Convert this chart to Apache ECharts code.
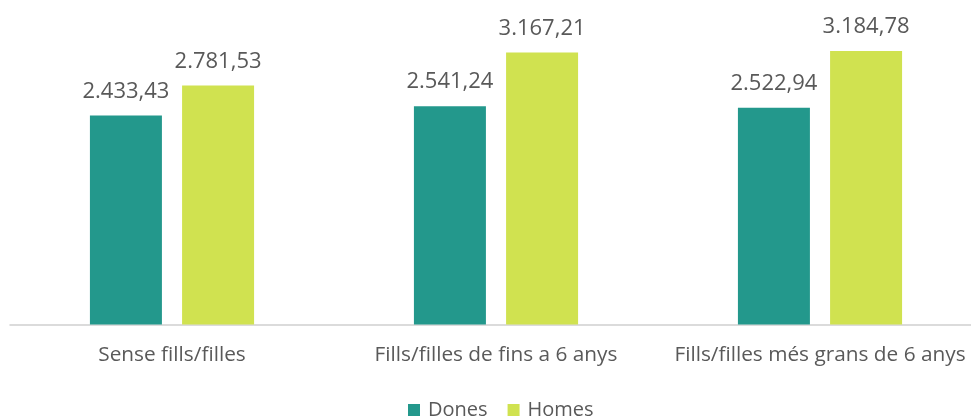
<!DOCTYPE html>
<html>
<head>
<meta charset="utf-8">
<script src="https://cdn.jsdelivr.net/npm/echarts@6/dist/echarts.min.js"></script>
<style>
    html, body { margin: 0; padding: 0; background: #fff; overflow: hidden; }
    #chart { width: 982px; height: 417px; }
</style>
</head>
<body>
<div id="chart"></div>
<script>
// categories and values
const categories = ['Sense fills/filles', 'Fills/filles de fins a 6 anys', 'Fills/filles més grans de 6 anys'];
const dones = [2433.43, 2541.24, 2522.94];
const homes = [2781.53, 3167.21, 3184.78];

const fontFamily = '"Open Sans", "Noto Sans", sans-serif';

// 2781.53 -> "2.781,53"
const fmt = v => {
    let parts = v.toFixed(2).split('.');
    parts[0] = parts[0].replace(/\B(?=(\d{3})+(?!\d))/g, '.');
    return parts.join(',');
};

const chart = echarts.init(document.getElementById('chart'));

const labelStyle = {
    show: true,
    position: 'top',
    distance: 13,
    color: '#595959',
    fontSize: 22,
    fontFamily: fontFamily,
    formatter: p => fmt(p.value)
};

chart.setOption({
    animation: false,
    grid: { left: 10, width: 972, top: 23.8, bottom: 92.5 },
    legend: {
        left: 408,
        top: 400,
        padding: 0,
        itemWidth: 12,
        itemHeight: 12,
        itemGap: 20,
        icon: 'rect',
        textStyle: { color: '#595959', fontSize: 20, fontFamily: fontFamily, padding: [0, 0, 0, 3] },
        data: ['Dones', 'Homes']
    },
    xAxis: {
        type: 'category',
        data: categories,
        axisLine: { lineStyle: { color: '#d0d0d0', width: 1.5 } },
        axisTick: { show: false },
        axisLabel: {
            interval: 0,
            hideOverlap: false,
            color: '#595959',
            fontSize: 20.8,
            fontFamily: fontFamily,
            margin: 20
        }
    },
    yAxis: {
        type: 'value',
        min: 0,
        max: 3500,
        show: false,
        splitLine: { show: false }
    },
    series: [
        {
            name: 'Dones',
            type: 'bar',
            data: dones,
            barWidth: 72,
            barGap: '28%',
            itemStyle: { color: '#23988C' },
            label: labelStyle
        },
        {
            name: 'Homes',
            type: 'bar',
            data: homes,
            barWidth: 72,
            itemStyle: { color: '#D0E250' },
            label: labelStyle
        }
    ]
});
</script>
</body>
</html>
